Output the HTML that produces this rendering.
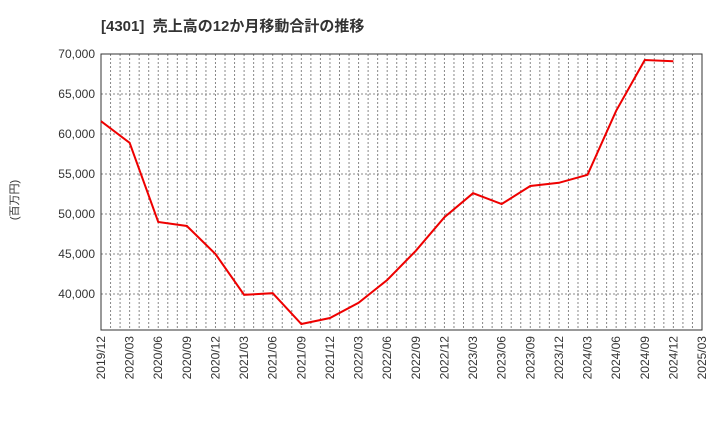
<!DOCTYPE html>
<html><head><meta charset="utf-8"><style>
body{margin:0;background:#fff;width:720px;height:440px;overflow:hidden;font-family:"Liberation Sans","Noto Sans CJK JP",sans-serif}
</style></head><body>
<svg id="c" width="720" height="440" xmlns="http://www.w3.org/2000/svg">
<text x="101" y="31" font-size="15" font-weight="bold" fill="#333" font-family="Liberation Sans, Noto Sans CJK JP, sans-serif">[4301]&#160; 売上高の12か月移動合計の推移</text>
<text transform="translate(18,200) rotate(-90)" text-anchor="middle" font-size="11" fill="#333" font-family="Liberation Sans, Noto Sans CJK JP, sans-serif">(百万円)</text>
<g id="grid"></g><g id="axes"></g><g id="series"></g>
</svg>
<script>
const xLabels=["2019/12","2020/03","2020/06","2020/09","2020/12","2021/03","2021/06","2021/09","2021/12","2022/03","2022/06","2022/09","2022/12","2023/03","2023/06","2023/09","2023/12","2024/03","2024/06","2024/09","2024/12","2025/03"];
const yTicks=[40000,45000,50000,55000,60000,65000,70000];
const sales=[61600,58900,49000,48500,45000,39900,40100,36250,37000,38900,41750,45400,49600,52600,51250,53500,53900,54900,62900,69250,69100];
const L=101,R=702,T=54,B=330,yMin=35500,yMax=70000;
const NS="http://www.w3.org/2000/svg";
const xq=i=>L+(R-L)*i/(xLabels.length-1);
const y=v=>B-(v-yMin)/(yMax-yMin)*(B-T);
function mk(t,a,p){const e=document.createElementNS(NS,t);for(const k in a)e.setAttribute(k,a[k]);p.appendChild(e);return e;}
const g=document.getElementById('grid'),ax=document.getElementById('axes'),s=document.getElementById('series');
const months=(xLabels.length-1)*3;
for(let m=1;m<months;m++){const x=L+(R-L)*m/months;
const ln=mk('line',{x1:x,x2:x,y1:T,y2:B,stroke:'#888','stroke-width':1,'stroke-dasharray':'2,2'},g);

}
yTicks.forEach(v=>{
const ln=mk('line',{x1:L,x2:R,y1:y(v),y2:y(v),stroke:'#888','stroke-width':1,'stroke-dasharray':'2,2'},g);


const t=mk('text',{x:L-6,y:y(v)+4,'text-anchor':'end','font-size':12,fill:'#333'},ax);t.textContent=v.toLocaleString('en-US');

});
const fr=mk('rect',{x:L,y:T,width:R-L,height:B-T,fill:'none',stroke:'#333','stroke-width':1},ax);


xLabels.forEach((lb,i)=>{const x=xq(i);
const t=mk('text',{transform:`translate(${x+4},${B+6}) rotate(-90)`,'text-anchor':'end','font-size':12,fill:'#333'},ax);t.textContent=lb;

});
const pl=mk('polyline',{points:sales.map((v,i)=>xq(i)+','+y(v)).join(' '),fill:'none',stroke:'#e00','stroke-width':2},s);


</script>
</body></html>
